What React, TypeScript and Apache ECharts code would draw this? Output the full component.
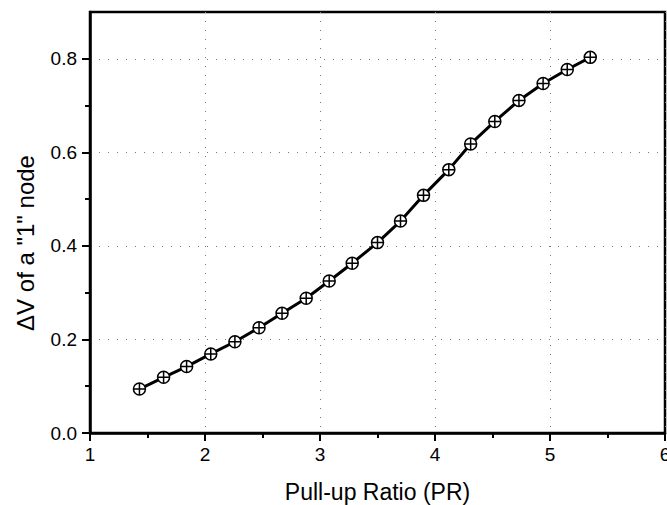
import React, { useEffect, useRef } from "react";
import * as echarts from "echarts";

const prValues = [1.43, 1.64, 1.84, 2.05, 2.26, 2.47, 2.67, 2.88, 3.08, 3.28, 3.5, 3.7, 3.9, 4.12, 4.31, 4.52, 4.73, 4.94, 5.15, 5.35];
const deltaV = [0.094, 0.119, 0.142, 0.169, 0.195, 0.225, 0.256, 0.288, 0.325, 0.363, 0.407, 0.453, 0.508, 0.563, 0.618, 0.666, 0.711, 0.747, 0.777, 0.803];
const yMajorTicks = [0, 0.2, 0.4, 0.6, 0.8];
const yMinorTicks = [0.1, 0.3, 0.5, 0.7];
const xTitle = "Pull-up Ratio (PR)";
const yTitle = "\u0394V of a \"1\" node";

const FONT = "'Liberation Sans', Arial, Helvetica, sans-serif";
const crossCircle = "path://M10,0 A10,10 0 1,1 10,20 A10,10 0 1,1 10,0 Z M0,10 L20,10 M10,0 L10,20";

export default function App() {
  const ref = useRef<HTMLDivElement>(null);
  useEffect(() => {
    if (!ref.current) return;
    const chart = echarts.init(ref.current, null, { renderer: "svg" });
    const dotted = { color: "#777", width: 1, type: [1, 8] as any };
    chart.setOption({
      animation: false,
      backgroundColor: "#fff",
      grid: {
        left: 90, right: 2, top: 12, bottom: 72,
        containLabel: false, outerBoundsMode: "none",
        show: true, borderColor: "#000", borderWidth: 2.5, backgroundColor: "transparent",
      },
      xAxis: {
        type: "value", min: 1, max: 6, interval: 1,
        name: xTitle, nameLocation: "middle", nameGap: 47,
        nameTextStyle: { fontFamily: FONT, fontSize: 23, color: "#000" },
        axisLine: { show: true, lineStyle: { color: "#000", width: 2.5 } },
        axisTick: { show: true, inside: false, length: 8, lineStyle: { color: "#000", width: 2 } },
        minorTick: { show: true, splitNumber: 2, length: 5, lineStyle: { color: "#000", width: 2 } },
        axisLabel: { margin: 12, fontFamily: FONT, fontSize: 19, color: "#000", hideOverlap: false },
        splitLine: { show: true, lineStyle: dotted },
      },
      yAxis: [
        {
          type: "value", min: 0, max: 0.9, interval: 0.2,
          axisLine: { show: true, lineStyle: { color: "#000", width: 2.5 } },
          axisTick: { show: true, inside: false, length: 8, customValues: yMajorTicks, lineStyle: { color: "#000", width: 2 } },
          axisLabel: {
            margin: 13, fontFamily: FONT, fontSize: 19, color: "#000", customValues: yMajorTicks,
            formatter: (v: number) => v.toFixed(1),
          },
          splitLine: { show: true, lineStyle: dotted },
        },
        {
          type: "value", min: 0, max: 0.9, position: "left",
          axisLine: { show: false },
          axisTick: { show: true, inside: false, length: 5, customValues: yMinorTicks, lineStyle: { color: "#000", width: 2 } },
          axisLabel: { show: false },
          splitLine: { show: false },
        },
      ],
      graphic: [
        {
          type: "text", x: 25, y: 243, rotation: Math.PI / 2,
          style: {
            text: yTitle, fontFamily: FONT, fontSize: 24, fill: "#000",
            textAlign: "center", textVerticalAlign: "middle",
          },
        },
      ],
      series: [
        {
          type: "line",
          data: prValues.map((x, i) => [x, deltaV[i]]),
          symbol: crossCircle,
          symbolSize: 12,
          lineStyle: { color: "#000", width: 3 },
          itemStyle: { color: "#fff", borderColor: "#000", borderWidth: 1.5 },
          z: 5,
        },
      ],
    });
    return () => chart.dispose();
  }, []);
  return (
    <div
      ref={ref}
      style={{ position: "fixed", left: 0, top: 0, width: 667, height: 505 }}
    />
  );
}
